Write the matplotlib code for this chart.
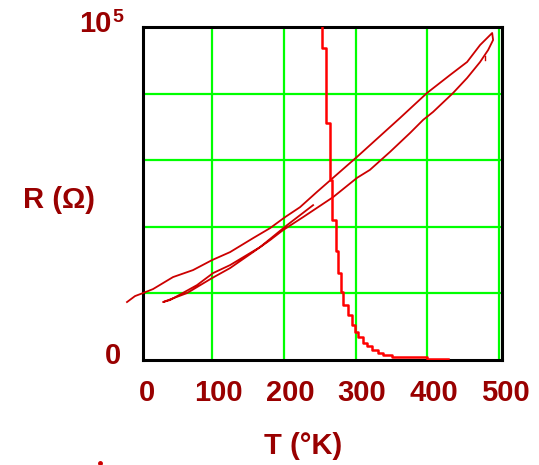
import matplotlib
matplotlib.use("Agg")
import matplotlib.pyplot as plt
from matplotlib.lines import Line2D
import matplotlib.transforms as mtransforms

# ---- data ----
# hysteresis loop (one continuous trace): upper branch -> tip -> lower branch -> thin return
loop_T = [-18.5, -7.3, 3.8, 17.8, 45.6, 73.5, 100, 125.1, 157.2, 180.8, 201.7, 222.6,
          246.3, 302, 362, 399.6, 431.7, 455.4, 473.5, 487.5, 490.3, 491.6,
          484.7, 473.5, 455.4, 435.9, 408, 394.1, 376, 348, 320, 302, 268.6, 226.8,
          198.9, 180.8, 157.2, 125.1, 100, 65.2, 31.7,
          41.5, 79.1, 101.4, 125.1, 166.9, 204.5, 240.8]
loop_R = [17400, 19200, 20100, 21300, 24900, 27000, 30000, 32400, 36600, 39600, 42900, 45900,
          50500, 61000, 72700, 80200, 85600, 89500, 94600, 97600, 98200, 96100,
          93100, 89500, 84700, 80200, 74500, 72100, 68200, 62500, 57100, 54700, 48900, 42900,
          39000, 36000, 32400, 27600, 24600, 20100, 17400,
          18000, 22500, 26100, 28500, 33900, 40500, 46500]
tick_T = [480.7, 480.7]
tick_R = [90000, 91200]

# step curve (steps-pre)
step_T = [253.3, 258.9, 264.5, 267.3, 272.9, 275.7, 279.9, 282.6, 289.6, 295.1, 299.3,
          303.5, 310.5, 316.2, 323.1, 331.5, 338.4, 351.0, 399.7, 428.9]
step_R = [100000, 93700, 71200, 54100, 42000, 32700, 26100, 20400, 16500, 13500, 10500,
          8400, 6900, 5100, 4200, 3000, 2100, 1500, 900, 300]

x_ticks = [100, 200, 300, 400, 500]
x_tick_labels = ["0", "100", "200", "300", "400", "500"]
x_label_pos = [0, 100, 200, 300, 400, 500]
y_ticks = [20000, 40000, 60000, 80000]

TXT = "#990000"
FONT = dict(family="Liberation Sans", fontweight="bold", color=TXT)

fig = plt.figure(figsize=(5.39, 4.65), dpi=100)
ax = fig.add_axes([143/539, 1 - 360/465, 359/539, 333/465])
ax.set_xlim(3.8, 504)
ax.set_ylim(0, 100000)

for xv in x_ticks:
    ax.axvline(xv, color="#00ff00", lw=1.6, zorder=1)
for yv in y_ticks:
    ax.axhline(yv, color="#00ff00", lw=1.6, zorder=1)

ax.plot(loop_T, loop_R, color="#cc0000", lw=1.3, clip_on=False, zorder=3)
ax.plot(tick_T, tick_R, color="#cc0000", lw=1.0, zorder=3)
ax.plot(step_T, step_R, color="#ff0000", lw=1.8, drawstyle="steps-pre", zorder=4)

ax.set_xticks([])
ax.set_yticks([])
for s in ax.spines.values():
    s.set_color("black")
    s.set_linewidth(2.2)

# x tick labels (slightly right of grid lines, as in the reference)
trans = mtransforms.blended_transform_factory(ax.transData, fig.transFigure)
for xv, lab in zip(x_label_pos, x_tick_labels):
    ax.text(xv + 9, 1 - 393/465, lab, transform=trans, ha="center", va="center",
            fontsize=21, **FONT)

# y labels
fig.text(95/539, 1 - 24/465, "10", ha="center", va="center", fontsize=21, **FONT)
fig.text(118/539, 1 - 17/465, "5", ha="center", va="center", fontsize=14, **FONT)
fig.text(113/539, 1 - 356/465, "0", ha="center", va="center", fontsize=21, **FONT)

fig.text(59/539, 1 - 200/465, "R (\u03a9)", ha="center", va="center", fontsize=21, **FONT)
fig.text(303/539, 1 - 446/465, "T (\u00b0K)", ha="center", va="center", fontsize=21, **FONT)

fig.add_artist(Line2D([100/539], [1 - 463/465], marker="o", markersize=2.5,
                      color="#cc0000", transform=fig.transFigure))

fig.savefig("out.png", dpi=100)
